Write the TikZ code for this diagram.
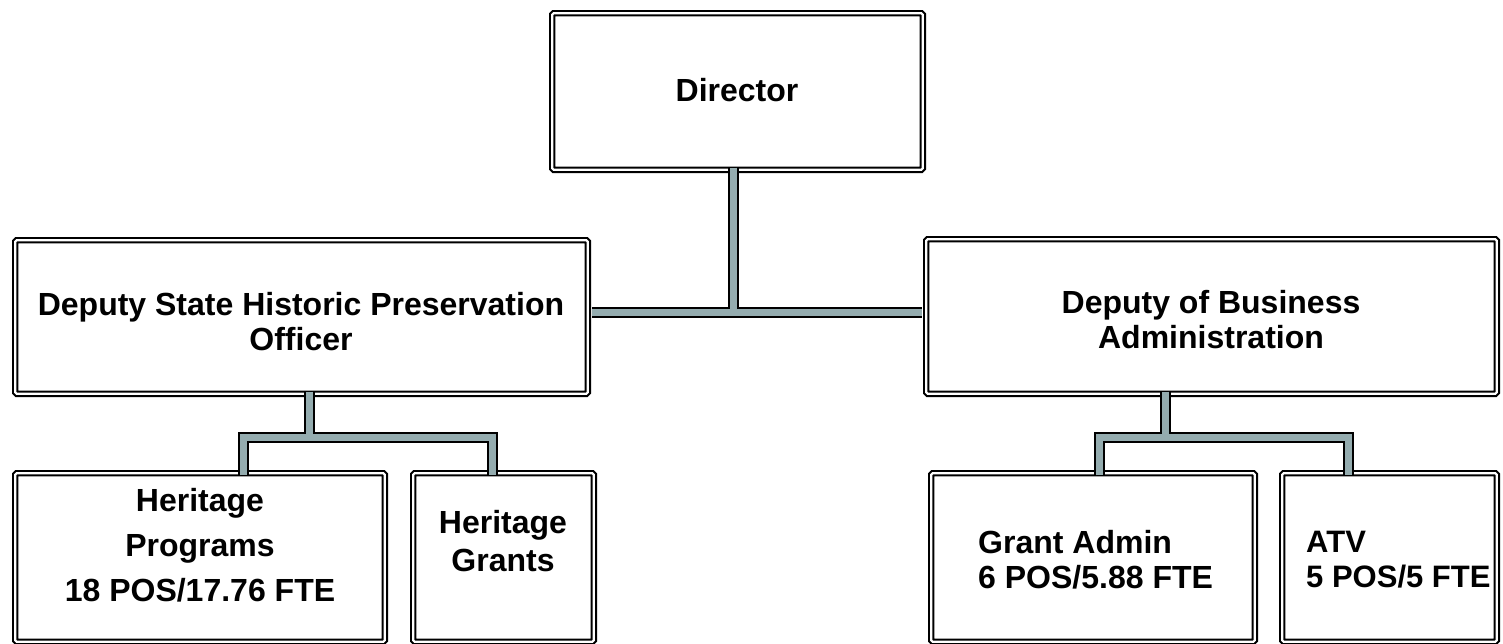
\documentclass[tikz,border=0pt]{standalone}
\usepackage{fontspec}
\setmainfont{Liberation Sans}
\definecolor{barfill}{RGB}{148,172,175}
\tikzset{
  orgbox/.style={draw=black, line width=2.1pt, double=white, double distance=2.2pt,
    rounded corners=1.5pt, inner sep=0pt, fill=white},
  lbl/.style={font=\bfseries\fontsize{32}{35}\selectfont, align=center, inner sep=0pt},
  lbll/.style={lbl, align=left, anchor=west},
  barout/.style={line width=11pt, draw=black, line cap=butt, line join=miter},
  barin/.style={line width=7pt, draw=barfill, line cap=butt, line join=miter},
}
\begin{document}
\begin{tikzpicture}[x=1pt, y=-1pt]
\clip (0,0) rectangle (1503,643);
\fill[white] (0,0) rectangle (1503,643);

% boxes (outer edge = path + 3.2)
\node[orgbox, minimum width=370.6pt, minimum height=156.6pt] (dir)   at (737.5,91.5) {};
\node[orgbox, minimum width=572.6pt, minimum height=153.6pt] (shpo)  at (301.5,317) {};
\node[orgbox, minimum width=570.6pt, minimum height=154.6pt] (bus)   at (1211.5,316.5) {};
\node[orgbox, minimum width=369.6pt, minimum height=168.6pt] (prog)  at (200,557.5) {};
\node[orgbox, minimum width=180.6pt, minimum height=168.6pt] (grant) at (503.5,557.5) {};
\node[orgbox, minimum width=323.6pt, minimum height=168.6pt] (gadm)  at (1093,557.5) {};
\node[orgbox, minimum width=214.6pt, minimum height=168.6pt] (atv)   at (1389.5,557.5) {};

% connector junctions
\coordinate (topj)  at (733,312);
\coordinate (leftj) at (309,437);
\coordinate (rightj) at (1165,437);

% connectors: black outline first, then the fill on the same paths
\foreach \st in {barout, barin}{
  \draw[\st] ([yshift=3.2pt]dir.south -| topj) -- (topj);
  \draw[\st] ([xshift=3.2pt]shpo.east |- topj) -- ([xshift=-3.2pt]bus.west |- topj);
  \draw[\st] ([yshift=3.2pt]shpo.south -| leftj) -- (leftj);
  \draw[\st] ([yshift=-3.2pt]prog.north -| 243,0) -- (243,437) -- (492,437) -- ([yshift=-3.2pt]grant.north -| 492,0);
  \draw[\st] ([yshift=3.2pt]bus.south -| rightj) -- (rightj);
  \draw[\st] ([yshift=-3.2pt]gadm.north -| 1099,0) -- (1099,437) -- (1348,437) -- ([yshift=-3.2pt]atv.north -| 1348,0);
}

% labels
\node[lbl] (dirt)   at (737,90) {Director};
\node[lbl] (shpot)  at (301,322) {Deputy State Historic Preservation\\Officer};
\node[lbl] (bust)   at (1211,320) {Deputy of Business\\Administration};
\node[lbl, font=\bfseries\fontsize{32}{45}\selectfont] (progt) at (200,545) {Heritage\\Programs\\18 POS/17.76 FTE};
\node[lbl, font=\bfseries\fontsize{32}{38}\selectfont] (grantt) at (503,541) {Heritage\\Grants};
\node[lbll] (gadmt) at (978,560) {Grant Admin\\6 POS/5.88 FTE};
\node[lbll, font=\bfseries\fontsize{31}{35}\selectfont] (atvt) at (1306,560) {ATV\\5 POS/5 FTE};
\end{tikzpicture}
\end{document}
